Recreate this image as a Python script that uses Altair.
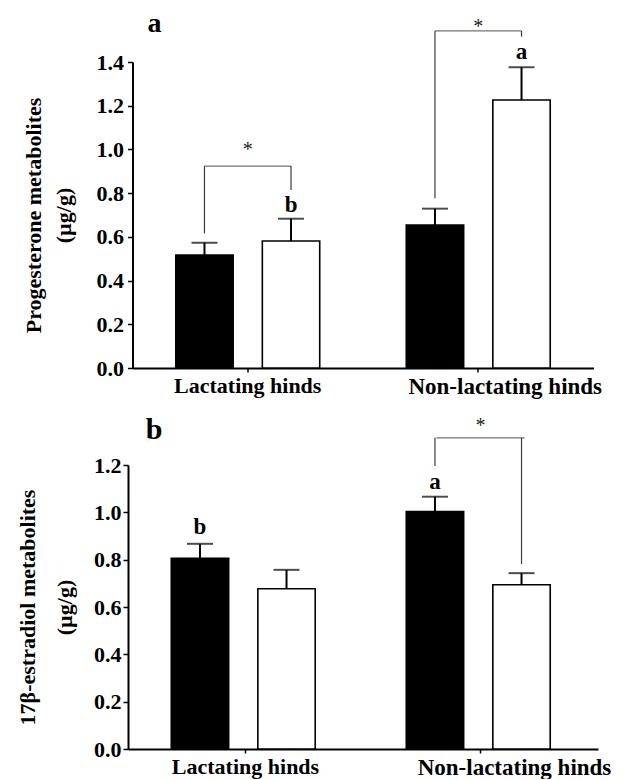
import altair as alt
import pandas as pd

categories = ["Lactating hinds", "Non-lactating hinds"]
groups = ["filled", "open"]
bar_fill = ["black", "white"]

# Panel a: progesterone metabolites (µg/g), [category][group]
prog_mean = [[0.517, 0.581], [0.654, 1.226]]
prog_upper = [[0.573, 0.683], [0.729, 1.376]]
prog_letter = [["", "b"], ["", "a"]]
prog_letter_y = [[0.0, 0.746], [0.0, 1.446]]
prog_br_cat = ["Lactating hinds", "Non-lactating hinds"]
prog_br_top = [0.924, 1.542]
prog_br_left = [0.616, 0.777]
prog_br_right = [0.814, 1.516]
prog_star = [1.016, 1.58]

# Panel b: 17β-estradiol metabolites (µg/g)
estr_mean = [[0.806, 0.677], [1.003, 0.694]]
estr_upper = [[0.867, 0.757], [1.066, 0.743]]
estr_letter = [["b", ""], ["a", ""]]
estr_letter_y = [[0.938, 0.0], [1.13, 0.0]]
estr_br_cat = ["Non-lactating hinds"]
estr_br_top = [1.315]
estr_br_left = [1.196]
estr_br_right = [0.782]
estr_star = [1.383]

prog_ticks = [0.0, 0.2, 0.4, 0.6, 0.8, 1.0, 1.2, 1.4]
estr_ticks = [0.0, 0.2, 0.4, 0.6, 0.8, 1.0, 1.2]

FONT = "Liberation Serif"


def panel(mean, upper, letter, letter_y, br_cat, br_top, br_left, br_right, star,
          ticks, ymax, ytitle, title_lh, title_pad, label_pad, width, height,
          panel_letter, pl_x, pl_y, pl_size, cap_size, nl_offset):
    rows = []
    for i, c in enumerate(categories):
        for j, g in enumerate(groups):
            rows.append({"cat": c, "grp": g, "mean": mean[i][j], "upper": upper[i][j],
                         "letter": letter[i][j], "ly": letter_y[i][j]})
    df = pd.DataFrame(rows)
    legs = []
    for k, c in enumerate(br_cat):
        legs.append({"cat": c, "grp": groups[0], "y": br_left[k], "y2": br_top[k]})
        legs.append({"cat": c, "grp": groups[1], "y": br_right[k], "y2": br_top[k]})
    legs_df = pd.DataFrame(legs)
    br_df = pd.DataFrame({"cat": br_cat, "top": br_top, "star": star, "s": ["*"] * len(br_cat)})

    nl_test = "datum.value == 'Non-lactating hinds'"
    x_axis = alt.Axis(
        title=None, labelAngle=0, tickSize=4, labelPadding=3, labelLimit=0,
        labelFontSize={"condition": {"test": nl_test, "value": 23}, "value": 22},
        labelOffset={"condition": {"test": nl_test, "value": nl_offset}, "value": 0},
    )
    x_enc = alt.X("cat:N", scale=alt.Scale(domain=categories, paddingInner=0, paddingOuter=0), axis=x_axis)
    xo_enc = alt.XOffset("grp:N", scale=alt.Scale(domain=groups, paddingInner=0.337, paddingOuter=0.5))
    y_scale = alt.Scale(domain=[0, ymax], nice=False, zero=True)
    y_axis = alt.Axis(values=ticks, format=".1f", title=ytitle, titleLineHeight=title_lh,
                      titlePadding=title_pad, labelPadding=label_pad, tickSize=5, labelFontSize=22)

    bars = alt.Chart(df).mark_bar(stroke="black", strokeWidth=1.6).encode(
        x=x_enc, xOffset=xo_enc,
        y=alt.Y("mean:Q", scale=y_scale, axis=y_axis),
        fill=alt.Fill("grp:N", scale=alt.Scale(domain=groups, range=bar_fill), legend=None),
    )
    err = alt.Chart(df).mark_rule(color="black", strokeWidth=2).encode(
        x=x_enc, xOffset=xo_enc,
        y=alt.Y("mean:Q", scale=y_scale, axis=y_axis), y2="upper:Q",
    )
    caps = alt.Chart(df).mark_tick(color="black", thickness=2, size=cap_size).encode(
        x=x_enc, xOffset=xo_enc,
        y=alt.Y("upper:Q", scale=y_scale, axis=y_axis),
    )
    lets = alt.Chart(df).transform_filter("datum.letter != ''").mark_text(
        font=FONT, fontWeight="bold", fontSize=23, baseline="middle", color="black"
    ).encode(
        x=x_enc, xOffset=xo_enc,
        y=alt.Y("ly:Q", scale=y_scale, axis=y_axis), text="letter:N",
    )
    leg_rules = alt.Chart(legs_df).mark_rule(color="#3a3a3a", strokeWidth=1.2).encode(
        x=x_enc, xOffset=xo_enc,
        y=alt.Y("y:Q", scale=y_scale, axis=y_axis), y2="y2:Q",
    )
    step = width / 2 / (2 - 0.337 + 1.0)
    horiz = alt.Chart(br_df).mark_tick(color="#3a3a3a", thickness=1.2, size=step).encode(
        x=x_enc, y=alt.Y("top:Q", scale=y_scale, axis=y_axis),
    )
    stars = alt.Chart(br_df).mark_text(
        font=FONT, fontSize=20, baseline="middle", dy=4, color="#222"
    ).encode(
        x=x_enc, y=alt.Y("star:Q", scale=y_scale, axis=y_axis), text="s:N",
    )
    pl = alt.Chart(pd.DataFrame({"t": [panel_letter]})).mark_text(
        font=FONT, fontWeight="bold", fontSize=pl_size, baseline="middle", color="black"
    ).encode(text="t:N", x=alt.value(pl_x), y=alt.value(pl_y))

    return alt.layer(bars, err, caps, leg_rules, horiz, stars, lets, pl).properties(
        width=width, height=height
    )


pa = panel(prog_mean, prog_upper, prog_letter, prog_letter_y, prog_br_cat, prog_br_top,
           prog_br_left, prog_br_right, prog_star, prog_ticks, 1.4,
           ["Progesterone metabolites", "(µg/g)"], 30, 21, 4, 461, 306, "a", 22, -38, 28, 26, 27)
pb = panel(estr_mean, estr_upper, estr_letter, estr_letter_y, estr_br_cat, estr_br_top,
           estr_br_left, estr_br_right, estr_star, estr_ticks, 1.2,
           ["17β-estradiol metabolites", "(µg/g)"], 37, 17, 2, 470, 284, "b", 26, -35, 30, 26, 34)

chart = alt.vconcat(pa, pb, spacing=97, center=True, bounds="flush").properties(
    padding={"left": 8, "top": 2, "right": 0, "bottom": 0}
).configure_view(stroke=None).configure_axis(
    grid=False, domainColor="black", domainWidth=2, tickColor="black", tickWidth=1.5,
    labelFont=FONT, labelFontWeight="bold", labelColor="black", labelFontSize=22,
    titleFont=FONT, titleFontWeight="bold", titleColor="black", titleFontSize=22,
)

chart.save("out.html", embed_options={"renderer": "svg", "actions": False})
